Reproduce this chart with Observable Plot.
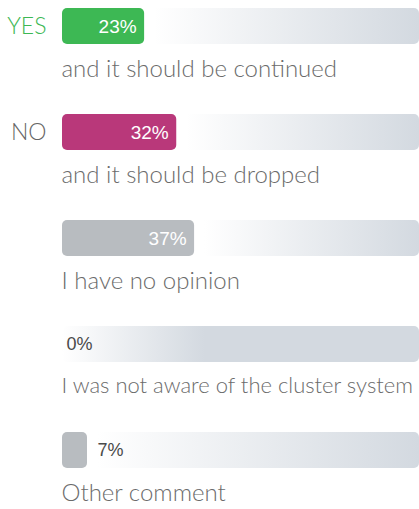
<!DOCTYPE html>
<html>
<head>
<meta charset="utf-8">
<script src="https://cdn.jsdelivr.net/npm/d3@7"></script>
<script src="https://cdn.jsdelivr.net/npm/@observablehq/plot@0.6"></script>
<style>
  html, body { margin: 0; padding: 0; background: #fff; overflow: hidden; }
  #chart svg { display: block; }
</style>
</head>
<body>
<div id="chart"></div>
<script>
const labels = ["and it should be continued", "and it should be dropped", "I have no opinion", "I was not aware of the cluster system", "Other comment"];
const tags = ["YES", "NO", "", "", ""];
const values = [23, 32, 37, 0, 7];
const barColors = ["#3db854", "#b9387a", "#b8bcc0", "#b8bcc0", "#b8bcc0"];
const tagColors = ["#3db854", "#666666", "#666666", "#666666", "#666666"];

const data = labels.map((label, i) => ({
  label, tag: tags[i], value: values[i], color: barColors[i], tagColor: tagColors[i],
  track: `url(#trk${i})`, pct: values[i] + "%"
}));

const lightFont = "Lato, sans-serif";
const pctFont = "'Liberation Sans', Arial, sans-serif";
const isLong = d => d.label.length > 30;

const chart = Plot.plot({
  width: 419,
  height: 509,
  marginLeft: 62,
  marginRight: 0,
  marginTop: 7,
  marginBottom: 41,
  x: {domain: [0, 100], axis: null},
  y: {domain: labels, axis: null, paddingInner: 0.661, paddingOuter: 0},
  color: {type: "identity"},
  style: {fontFamily: lightFont, background: "#fff", overflow: "visible"},
  marks: [
    Plot.barX(data, {x1: d => 0, x2: d => 100, y: "label", fill: "track", rx: 5}),
    Plot.barX(data.filter(d => d.value > 0), {x1: d => 0, x2: "value", y: "label", fill: "color", rx: 5}),
    Plot.text(data.filter(d => d.value >= 15), {
      x: "value", y: "label", text: "pct", dx: -8, textAnchor: "end",
      fill: "#ffffff", fontSize: 19, fontFamily: pctFont
    }),
    Plot.text(data.filter(d => d.value === 0), {
      x: "value", y: "label", text: "pct", dx: 4, textAnchor: "start",
      fill: "#4a4a4a", fontSize: 18, fontFamily: pctFont
    }),
    Plot.text(data.filter(d => d.value > 0 && d.value < 15), {
      x: "value", y: "label", text: "pct", dx: 10, textAnchor: "start",
      fill: "#4a4a4a", fontSize: 18, fontFamily: pctFont
    }),
    Plot.text(data.filter(d => !isLong(d)), {
      x: d => 0, y: "label", text: "label", dy: 43, dx: -1, textAnchor: "start",
      fill: "#6b6b6b", fontSize: 24, fontWeight: 300, letterSpacing: "-0.5px"
    }),
    Plot.text(data.filter(isLong), {
      x: d => 0, y: "label", text: "label", dy: 41, dx: -1, textAnchor: "start",
      fill: "#6b6b6b", fontSize: 22, fontWeight: 300, letterSpacing: "-1px"
    }),
    Plot.text(data, {
      x: d => 0, y: "label", text: "tag", dx: -16, textAnchor: "end",
      fill: "tagColor", fontSize: 23, fontWeight: 300, letterSpacing: "-0.5px"
    })
  ]
});

// gradients for the tracks
const xs = chart.scale("x");
const ns = "http://www.w3.org/2000/svg";
const defs = document.createElementNS(ns, "defs");
data.forEach((d, i) => {
  const g = document.createElementNS(ns, "linearGradient");
  g.setAttribute("id", `trk${i}`);
  g.setAttribute("gradientUnits", "userSpaceOnUse");
  const start = d.value === 0 ? xs.apply(0) : xs.apply(d.value) + 10;
  const end = d.value === 0 ? xs.apply(40) : xs.apply(100);
  g.setAttribute("x1", start);
  g.setAttribute("x2", end);
  g.setAttribute("y1", 0);
  g.setAttribute("y2", 0);
  [[0, "#ffffff"], [1, "#d3d9e0"]].forEach(([o, c]) => {
    const s = document.createElementNS(ns, "stop");
    s.setAttribute("offset", o);
    s.setAttribute("stop-color", c);
    g.appendChild(s);
  });
  defs.appendChild(g);
});
chart.insertBefore(defs, chart.firstChild);

document.getElementById("chart").appendChild(chart);
</script>
</body>
</html>
